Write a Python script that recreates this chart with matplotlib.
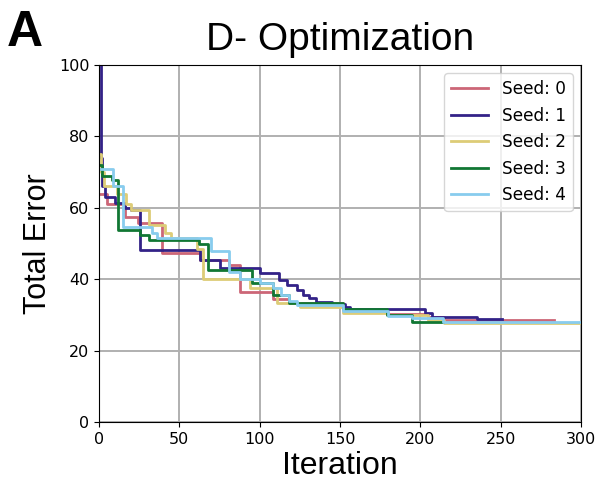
"""
D-optimization convergence curves for five random seeds (best total error so far).
"""

import matplotlib
matplotlib.use("Agg")
import matplotlib.pyplot as plt

# step change points (iteration) and best total error for each seed
seed0_iter = [0, 5, 16, 24, 39, 63, 81, 88, 108, 118, 152, 179, 205, 215, 283]
seed0_err = [64, 61, 57.4, 55.7, 47.3, 45.5, 44, 36.5, 34.5, 33.3, 31.4, 30.2, 29.4, 28.7, 28.7]

seed1_iter = [0, 1, 2, 4, 10, 16, 20, 25.5, 63, 75, 100, 112, 117, 123, 127, 131,
              135, 145, 153, 156, 203, 207, 235, 251]
seed1_err = [115, 74, 66, 63, 61.3, 60, 59.4, 48.2, 45.4, 43, 41.7, 39.8, 38.4, 37, 35.5, 34.7,
             33.6, 33, 32.2, 31.6, 30.5, 29.5, 28.9, 28.9]

seed2_iter = [0, 1, 3, 11, 17, 20, 31, 41, 45, 61, 65, 94, 111, 125, 152, 180, 205, 215, 300]
seed2_err = [75, 70, 66, 64, 61, 59.4, 55.3, 53, 51.5, 48.5, 40, 37.5, 33.3, 32.2, 30.5, 30,
             28.5, 27.7, 27.7]

seed3_iter = [0, 2, 8, 12, 25.5, 31, 62, 68, 95, 108, 118, 152, 179, 195, 214]
seed3_err = [72, 69, 67.8, 53.8, 52.4, 51, 49.8, 42.6, 39, 35.5, 33.3, 31.6, 30, 28, 28]

seed4_iter = [0, 9, 15, 33, 36, 70, 81, 88, 100, 108, 113, 118, 123, 152, 180, 195, 214, 300]
seed4_err = [71, 66, 54.6, 53, 51.5, 48, 42, 40, 39, 37.5, 35.5, 34, 32.8, 31, 29.7, 29, 28, 28]

seed_labels = ["Seed: 0", "Seed: 1", "Seed: 2", "Seed: 3", "Seed: 4"]
seed_colors = ["#CC6677", "#332288", "#DDCC77", "#117733", "#88CCEE"]


def main():
    fig = plt.figure(figsize=(5.98, 4.82), dpi=100)
    ax = fig.add_axes([0.1656, 0.1245, 0.806, 0.7406])

    runs = [(seed0_iter, seed0_err), (seed1_iter, seed1_err), (seed2_iter, seed2_err),
            (seed3_iter, seed3_err), (seed4_iter, seed4_err)]
    for (xs, ys), label, color in zip(runs, seed_labels, seed_colors):
        ax.plot(xs, ys, drawstyle="steps-post", color=color, linewidth=2, label=label)

    ax.set_xlim(0, 300)
    ax.set_ylim(0, 100)
    ax.set_xticks([0, 50, 100, 150, 200, 250, 300])
    ax.set_yticks([0, 20, 40, 60, 80, 100])
    ax.tick_params(labelsize=11.5)
    ax.grid(True, color="#b0b0b0", linewidth=1.4)
    ax.set_axisbelow(True)

    ax.set_xlabel("Iteration", fontsize=23, family="Liberation Sans", labelpad=3)
    ax.set_ylabel("Total Error", fontsize=22, family="Liberation Sans", labelpad=4)
    ax.set_title("D- Optimization", fontsize=28, family="Liberation Sans", pad=11)
    ax.legend(loc="upper right", fontsize=12.2, handlelength=2.2)

    fig.text(0.012, 0.905, "A", fontsize=36, fontweight="bold", family="Liberation Sans")

    fig.savefig("out.png", dpi=100)
    plt.close(fig)


if __name__ == "__main__":
    main()
